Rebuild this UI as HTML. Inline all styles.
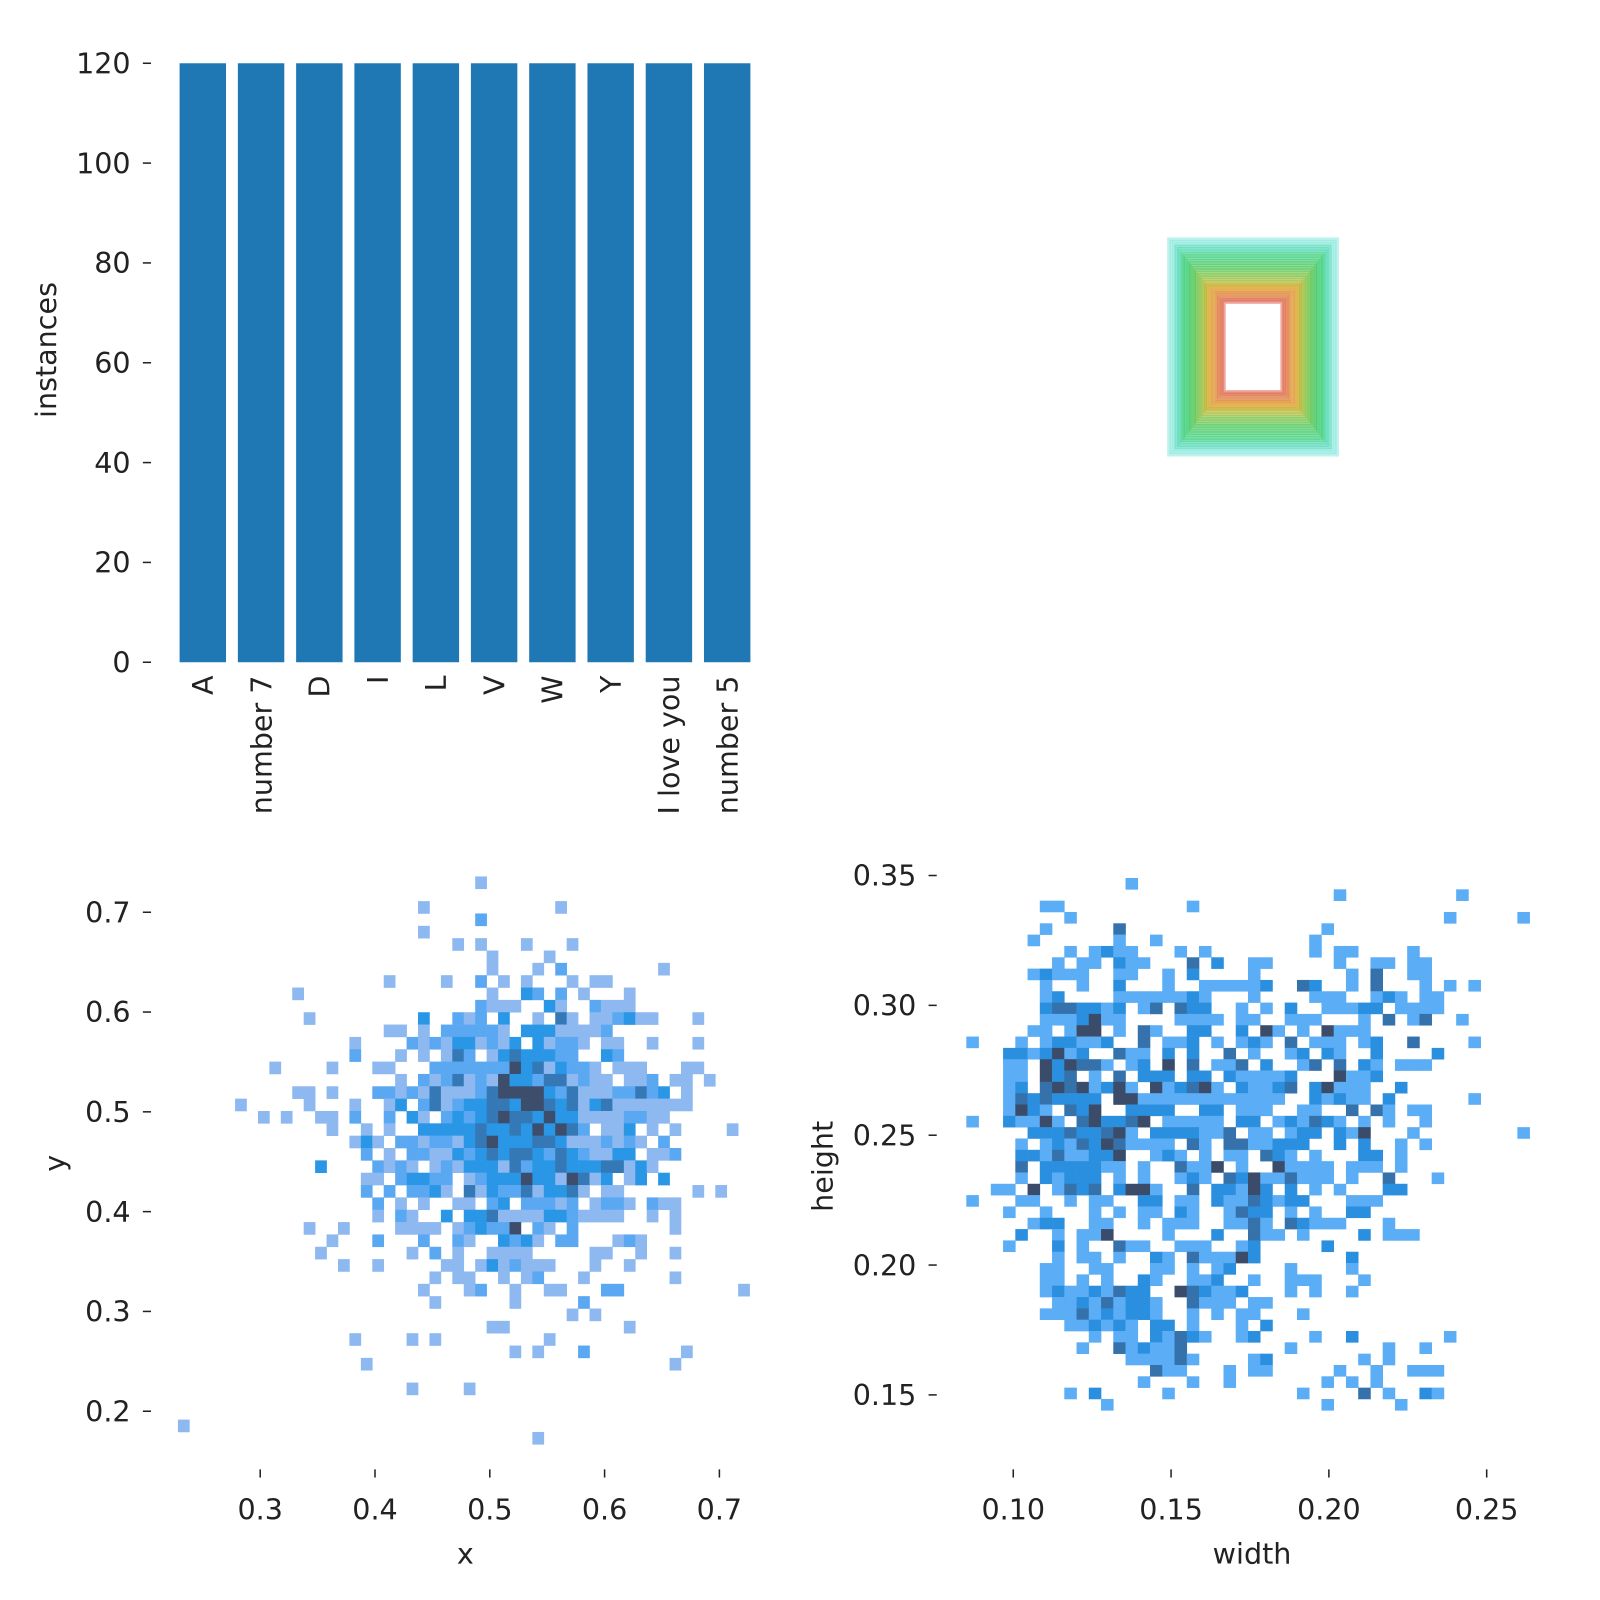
<!DOCTYPE html>
<html><head><meta charset="utf-8"><style>
html,body{margin:0;padding:0;background:#fff}
svg{display:block}
text{font-family:"DejaVu Sans","Liberation Sans",sans-serif;fill:#222}
</style></head><body>
<svg id="s" width="1600" height="1600" viewBox="0 0 1568 1568" xmlns="http://www.w3.org/2000/svg">
<g id="bars"></g>
<g id="boxes"></g>
<g id="xy"></g>
<g id="wh"></g>
</svg>
<script>
const NS="http://www.w3.org/2000/svg";
const barCategories=["A","number 7","D","I","L","V","W","Y","I love you","number 5"];
const barValues=[120,120,120,120,120,120,120,120,120,120];
const barTicks=[0,20,40,60,80,100,120];
const xyXTicks=[0.3,0.4,0.5,0.6,0.7];
const xyYTicks=[0.2,0.3,0.4,0.5,0.6,0.7];
const whXTicks=[0.10,0.15,0.20,0.25];
const whYTicks=[0.15,0.20,0.25,0.30,0.35];
const boxW=[0.106,0.103,0.1,0.097,0.094,0.092,0.089,0.087,0.085,0.082,0.08,0.078,0.075,0.073,0.071,0.068,0.066,0.063,0.061,0.059,0.057,0.054,0.052,0.05,0.047,0.045,0.043,0.041,0.039,0.037];
const boxH=[0.136,0.133,0.13,0.127,0.124,0.121,0.118,0.115,0.112,0.109,0.106,0.103,0.1,0.097,0.094,0.091,0.088,0.085,0.082,0.079,0.077,0.075,0.072,0.07,0.068,0.066,0.063,0.061,0.059,0.057];
const xyRows=["26","","21 33","26:2","21","24 26 30 34","27 32","27 31 33:2 42","18 23 26:2 28 30 34 36 37","10 27 30:3 31:2 33:2 35 39","26:2 27 28 29 32:3 33 36:2 37 38 39","11 21:3 24:2 25 26:2 28:3 31 33:4 34 36 37 38:2 39:3 40 41 45","18 19 21 23:2 24:2 25:2 26:2 27:2 28 30:3 31:3 32:3 33 34 35 36 37:2","15 20:2 21 22:2 23 24:3 25:3 26 27:2 28 29:3 31:3 32 33:2 34:2 35 37 38 41 45","15:2 19 21 23 24:4 25:2 27 28:3 29:4 30:3 31:3 32:3 33:2 34:2 37:3 38:2","8 13 17 18 22:2 23:2 24:2 25:2 26:2 27:2 28:2 29:5 30:3 31:4 32 33:3 34:2 35:2 36 38 39 40 44 45","19 21:2 22 23:2 24:4 25 26:2 27 28:5 29:3 30:3 31:2 32:4 33:4 34 35:2 36 37 39 40 41:2 43 44 46","10 11 13 17:2 18:2 19 20:2 21 22:4 23 24 25 26:2 27:4 28:5 29:5 30:5 31:5 32:3 33:2 34:4 35 36 37 38:2 39:2 40:4 41:2 42:3 44","5 11 15 18 19:3 21:2 22:4 23 24:2 25:3 26:3 27:4 28:4 29:3 30:5 31:5 32:4 33:3 34:4 35 36:3 37:4 38 39 40 41 42 43 44","7 9 12 13 15:2 18:2 20:3 21 23:2 24:3 25:2 26:3 27:4 28:5 29:4 30:4 31:3 32:5 33:3 34:3 35 36 37 38 39:2 40:2 41 42","13 16 18 21:3 22:3 23:3 24:3 25:3 26:4 27:3 28:3 29:4 30:3 31:5 32:3 33:5 34:4 35:2 37 38 39:3 41 43 48","15 16:3 17 19:2 20:2 21 22:2 23:2 24 25:3 26:4 27:5 28:3 29:3 30:3 31:4 32:4 33:3 34 35 36 37:2 38 39:2 40 42:2","16:2 18 20:2 21:2 22 23 24:3 25:2 26:3 27:4 28:3 29:4 30:4 31:3 32:2 33:4 34:3 35:2 36 37 38:3 39:3 41 42 43:2","12:3 17:2 18 19:2 20 22 23:2 24 25:3 26:3 27:3 28 29:4 30:2 31:3 32:3 33:4 34:3 35:3 36:3 37:4 38:4 39 40:3 41","16 17 19:2 20:3 21:3 22:2 23:2 25 26:2 27:3 28:3 29:3 30:5 31:3 32:3 33 34:5 35:4 36 37:3 39 40:3 42:3","16:2 18:2 20:2 21:2 22:3 23 25:4 26 27:3 28:2 29:2 30:4 31 32:3 33:3 34:4 35 37 38 45 47","17:2 19 21 24 25 27:2 28:3 30:2 31:2 32:2 33 34:2 36 37:2 38:2 39 41:2 42 43","17 19:2 20 23:3 25:3 26:3 27:4 28 29 30 31 32:3 33:3 34:2 35 36 37 38 41 43","11 14 19 20 21 22 24 25:2 26:3 27:2 28:2 29:5 31:2 32 34:2 43","13 17:2 21:2 24:2 25 28:3 29:2 30:3 31 33:2 34:2 38 39:2 40","12 20 22:2 24 27 28 29 30 36 37 40 43","14 17 23 24 26 27:3 28 29:2 30 31 32 36 39","22 24 25 28 30 31:2 35 43","21 25 26:2 29 32 33 37:2 38:2 49","22 29 35:2","34 36","27 28 39","15 20 22 32","29 31 35:2 44","16 43","","20 25","","","0","31"];
const whRows=["13","30 40","6 7 18","8 39 45","6 12:4 29","5 12 15 28","8 10 11:3 12 13 17 19 28 30 31 36","7 9 10 12:3 13 14 18:4 20:3 23 24 30 33 34 36 37","5 6:3 7 8 9 12 13 16 18:3 23 31 33:4 36 37","6 9 12:3 16 19 20 21 22 23 24:3 27:4 28:3 31 33:4 37 39 41","6 7:3 12 13 14 15 16 17 18:3 19 23 28 29 30 33 34:3 35 37 38","6:3 7:4 8:4 9:3 10:3 11 12:3 14 15:4 17:4 18:3 19:3 22 24 26:3 29 30 31 32:3 33:3 35 36 37 38","6 7 8 9:3 10:5 11 12 17 18 19 20 22 23 26 27 28 32 34:4 36 37:4 40","5 6 8 9:5 10:5 12 14:4 15 18:3 19:3 22:3 24:5 25 27 29:5 30 31 32","0 4 6 7:3 8:3 9 10 11:3 14:4 16 17 18:3 20 22 23:3 24 26:4 28 29 30 32 33:3 36:4 41","3:3 4:3 5 6:3 7:5 8 9:3 12:4 13 14 16:3 18:3 21:4 23 26 27:3 29:3 30 33:3 38:3","3 4 6:5 7:3 8:5 9:4 10:4 11 13 14:3 16:5 18:4 20 21 22:4 24:3 27 28:4 30:4 32:3 33 35 36 37","3 4 6:5 7:3 8:4 10 12:4 14:3 15:3 16:3 18:3 19:3 21:3 22 23 24 25 26:3 30:5 31 32 33:3","3 4:3 6:4 7:5 8:4 9:5 10 11:3 12:5 13 15:5 16 17:3 18:4 19:5 20 22:3 23 24 25:3 26:4 28:3 29:5 30 31 32 35:3","3 4:4 5:3 6:4 7:3 8:3 9:3 10:3 12:5 13:5 14 15 16 17 18 19 20 21 22 23 24 25 28:3 29 30:3 31 32 34:3 41","3 4:5 5:3 6 8:4 9:3 10:5 13:3 14:3 15:3 16:3 19:3 20:3 22 23 24 27 28 31:4 33:4 34 36 37","0 3:3 4 5 6:5 7 9:4 10:5 11:3 12:3 13:4 14:5 16 17 18 19 20 22:3 23:3 25 26:3 27 28:4 29:3 30 32 34 37","5:3 6:3 7:3 8:4 9:3 10:3 11:4 12:5 13 15:3 16:3 17:3 18:3 19 20 21:4 23 24 26 27:3 28:3 30:3 31 32:5 36 45","4 6 7:3 8 9:4 10:3 11:5 12:4 13 14 15 16 18:4 19 21:4 22:4 23 24 25:3 26:3 27:3 30:3 32:3 35 37","4:3 5:3 6 7:4 8 9 10:3 11:3 12:5 15 16:3 17 19 21 22 24:4 25:3 26 28 32:3 33:3 35","4:4 6:3 7:3 8:3 9:3 10:3 11 12 14 17:4 18 19 20:5 22 25:5 26 27 28 29 31 32 33 35","4 6:3 7 8:3 9:3 10:3 12 14 17 18:3 19 21:4 22:3 23:5 24 25 26:4 27 28 29 31 34:4 38","2 3 5:5 7 8:4 9:3 10:4 12:3 13:5 14:5 15 18:4 20:3 21:3 22 23:5 24:3 26:3 28 30 34:3 35:3","0 4 5 8 10 11 14:3 15:3 17 18 20:3 21 22 23:4 24:3 25 26:3 27:3 31 32 33","3 6 10 12 14 15 17:3 18 21 22:4 23:3 24:3 26 28 31:3 32:3","5 6:3 7:3 10 11 14 16 17 18 21 22 23:4 24 26:4 27:3 28 29 30 34","4:3 7 9 10 11:5 16 20:3 23:4 24 25 27 32:3 34 35 36","3 7:3 9 12:4 13 14 17 18 19 22 23:3 29:3","7 9 10 12 15:3 16 18:4 19 20 21 22:5 23:3 31:3","6 7 10 11 15 16 18 20 21:3 26 31","6 7 9 11 14:3 15 18 19 20:3 23 26 27 28 32","6 7:3 8 9 10:3 11 12:4 13:3 14:3 17:5 18:4 19:3 20 21 22:3 26 28 31","7 8 9:3 10 11:4 12 13:3 14:3 15 18:4 19 20 21 23 24","6 7 8 9:4 10 11:3 12 13:3 14:3 15 18 20 22 23 27","8 9 10:3 11 12:3 13 15:3 16:3 18 22 24:3","10 12 13 15:3 16 17:4 18:3 19 22 23:3 28 31:3 39","9 12:4 13 14:3 15 16 17:4 26 34 37","13 14 15 16 17:4 18 23 24:3 32 34","15:4 16 17 21 23 24 30 33 36 37 38","14 18 21 29 31 33","8 10:3 16 27 32:4 34 37:3 38","11 29 35"];
const xyColors=["","#8db8f0","#5aa8f2","#2a96e6","#3478b6","#3c4e6c"];
const whColors=["","#5badf5","#5badf5","#2b8fdf","#3571aa","#3a4c6a"];

function el(tag,attrs,parent,txt){const e=document.createElementNS(NS,tag);for(const k in attrs)e.setAttribute(k,attrs[k]);if(txt!==undefined)e.textContent=txt;parent.appendChild(e);return e;}
function parseRows(rows){const out=[];rows.forEach((s,r)=>{s.split(" ").filter(Boolean).forEach(t=>{const p=t.split(":");out.push([+p[0],r,p[1]?+p[1]:1]);});});return out;}
const FS=28;

/* ---- bar chart ---- */
const gB=document.getElementById("bars");
const bY=v=>649-v*(587/120);
const bX=i=>176+i*57.1;
barTicks.forEach(t=>{
  const l=el("line",{x1:140,x2:148,y1:bY(t),y2:bY(t),stroke:"#222","stroke-width":1.5},gB);
  
  
  const tx=el("text",{x:128,y:bY(t)+10,"text-anchor":"end","font-size":FS},gB,String(t));
  
  
});
barCategories.forEach((c,i)=>{
  const r=el("rect",{x:bX(i),y:bY(barValues[i]),width:45.5,height:bY(0)-bY(barValues[i]),fill:"#1f77b4"},gB);
  
  
  const cx=bX(i)+22.75;
  const tx=el("text",{x:0,y:0,"text-anchor":"end","font-size":FS,transform:`translate(${cx+10},662) rotate(-90)`},gB,c);
  
  
});
const yl=el("text",{x:0,y:0,"text-anchor":"middle","font-size":FS,transform:"translate(55,343) rotate(-90)"},gB,"instances");



/* ---- boxes ---- */
const gX=document.getElementById("boxes");
const boxColors=["#7fe6dc","#3fd6b0","#2ecc71","#2fc860","#3ec24c","#6cbd34","#a8b424","#d6a21c","#e0942a","#e0783e","#e06450"];
const bs=1550;
boxW.forEach((w,i)=>{
  const h=boxH[i];const pw=w*bs,ph=h*bs;
  const col=boxColors[Math.min(boxColors.length-1,Math.floor(i*boxColors.length/boxW.length))];
  const r=el("rect",{x:1228-pw/2,y:340-ph/2,width:pw,height:ph,fill:"none",stroke:col,"stroke-width":4,"stroke-opacity":0.5},gX);
  
  
});

/* ---- xy histogram ---- */
const gXY=document.getElementById("xy");
const xyX=v=>255+(v-0.3)*1125, xyY=v=>894-(v-0.7)*978;
const xyX0=0.2333,xyBW=0.00996,xyY0=0.7297,xyBH=0.01237;
parseRows(xyRows).forEach(([c,r,l])=>{
  const xc=xyX0+c*xyBW, yc=xyY0-r*xyBH;
  const x1=xyX(xc-xyBW/2),x2=xyX(xc+xyBW/2),y1=xyY(yc+xyBH/2),y2=xyY(yc-xyBH/2);
  const e=el("rect",{x:x1,y:y1,width:x2-x1+0.3,height:y2-y1+0.3,fill:xyColors[l]},gXY);
  
  
});
xyYTicks.forEach(t=>{
  const l=el("line",{x1:140,x2:148,y1:xyY(t),y2:xyY(t),stroke:"#222","stroke-width":1.5},gXY);
  
  
  const tx=el("text",{x:128,y:xyY(t)+10,"text-anchor":"end","font-size":FS},gXY,t.toFixed(1));
  
  
});
xyXTicks.forEach(t=>{
  const l=el("line",{x1:xyX(t),x2:xyX(t),y1:1440,y2:1448,stroke:"#222","stroke-width":1.5},gXY);
  
  
  const tx=el("text",{x:xyX(t),y:1489,"text-anchor":"middle","font-size":FS},gXY,t.toFixed(1));
  
  
});
const xt=el("text",{x:456,y:1532,"text-anchor":"middle","font-size":FS},gXY,"x");


const ytt=el("text",{x:0,y:0,"text-anchor":"middle","font-size":FS,transform:"translate(63,1140) rotate(-90)"},gXY,"y");



/* ---- width/height histogram ---- */
const gWH=document.getElementById("wh");
const whX=v=>993+(v-0.10)*3093, whY=v=>858-(v-0.35)*2545;
const whX0=0.08707,whBW=0.00388,whY0=0.34686,whBH=0.004361;
parseRows(whRows).forEach(([c,r,l])=>{
  const xc=whX0+c*whBW, yc=whY0-r*whBH;
  const x1=whX(xc-whBW/2),x2=whX(xc+whBW/2),y1=whY(yc+whBH/2),y2=whY(yc-whBH/2);
  const e=el("rect",{x:x1,y:y1,width:x2-x1+0.3,height:y2-y1+0.3,fill:whColors[l]},gWH);
  
  
});
whYTicks.forEach(t=>{
  const l=el("line",{x1:910,x2:918,y1:whY(t),y2:whY(t),stroke:"#222","stroke-width":1.5},gWH);
  
  
  const tx=el("text",{x:898,y:whY(t)+10,"text-anchor":"end","font-size":FS},gWH,t.toFixed(2));
  
  
});
whXTicks.forEach(t=>{
  const l=el("line",{x1:whX(t),x2:whX(t),y1:1440,y2:1448,stroke:"#222","stroke-width":1.5},gWH);
  
  
  const tx=el("text",{x:whX(t),y:1489,"text-anchor":"middle","font-size":FS},gWH,t.toFixed(2));
  
  
});
const wt=el("text",{x:1227,y:1532,"text-anchor":"middle","font-size":FS},gWH,"width");


const ht=el("text",{x:0,y:0,"text-anchor":"middle","font-size":FS,transform:"translate(816,1143) rotate(-90)"},gWH,"height");


</script>
</body></html>
